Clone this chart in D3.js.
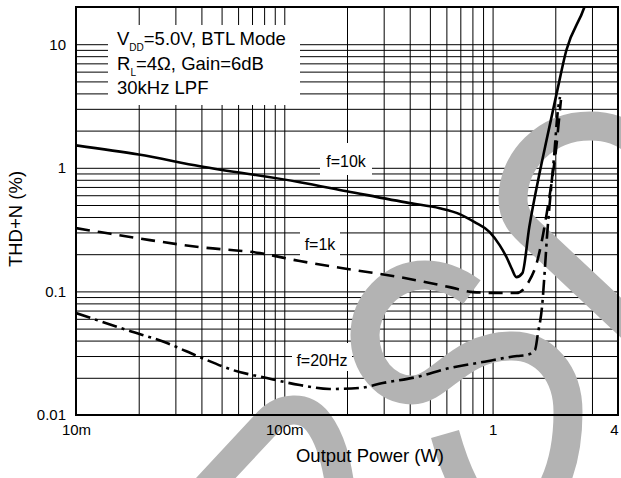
<!DOCTYPE html>
<html>
<head>
<meta charset="utf-8">
<script src="https://cdn.jsdelivr.net/npm/d3@7"></script>
<style>
body { margin: 0; background: #fff; }
svg { display: block; font-family: "Liberation Sans", Arial, sans-serif; }
</style>
</head>
<body>
<svg width="621" height="478"></svg>
<script>
// THD+N vs output power
var powerTicks = [0.01, 0.1, 1, 4],
    powerTickLabels = ["10m", "100m", "1", "4"];
var thdTicks = [0.01, 0.1, 1, 10],
    thdTickLabels = ["0.01", "0.1", "1", "10"];

// [W, %]
var f10k = [[0.01, 1.52], [0.02, 1.28], [0.0394, 1.03], [0.1187, 0.765], [0.1995, 0.647],
    [0.40, 0.518], [0.557, 0.471], [0.695, 0.422], [0.82, 0.363], [0.968, 0.302],
    [1.081, 0.237], [1.167, 0.189], [1.233, 0.154], [1.30, 0.1305], [1.39, 0.1406],
    [1.50, 0.331], [1.68, 0.904], [1.815, 1.67], [2.03, 4.0], [2.26, 8.93], [2.76, 20], [2.9, 26]];

var f1k = [[0.01, 0.325], [0.01303, 0.302], [0.02264, 0.26], [0.0393, 0.228], [0.0763, 0.204],
    [0.1187, 0.176], [0.191, 0.154], [0.358, 0.1305], [0.622, 0.1083], [0.802, 0.0987],
    [1.081, 0.097], [1.30, 0.097], [1.479, 0.117], [1.634, 0.173], [1.727, 0.261],
    [1.824, 0.439], [1.928, 0.797], [2.015, 1.393], [2.083, 2.44], [2.129, 3.54]];

var f20 = [[0.01, 0.0668], [0.01756, 0.0487], [0.02733, 0.0382], [0.0393, 0.0294], [0.0566, 0.0231],
    [0.0824, 0.0199], [0.1187, 0.01748], [0.165, 0.01623], [0.230, 0.01654], [0.297, 0.01814],
    [0.432, 0.0203], [0.622, 0.024], [0.895, 0.0268], [1.31, 0.030], [1.462, 0.0306],
    [1.598, 0.0336], [1.652, 0.0461], [1.727, 0.0748], [1.785, 0.1575], [1.824, 0.275],
    [1.906, 0.661], [1.972, 1.223], [2.06, 2.94], [2.107, 3.74]];

var seriesNames = ["f=10k", "f=1k", "f=20Hz"];

var svg = d3.select("svg"),
    margin = {top: 7, right: 3, bottom: 63, left: 76},
    width = +svg.attr("width") - margin.left - margin.right,
    height = +svg.attr("height") - margin.top - margin.bottom;

var x = d3.scaleLog().domain([0.01, 4]).range([0, width]),
    y = d3.scaleLog().domain([0.01, 20]).range([height, 0]);

// layers, bottom to top
var gridLayer = svg.append("g").attr("transform", "translate(" + margin.left + "," + margin.top + ")"),
    boxLayer = svg.append("g"),
    wmLayer = svg.append("g"),
    focus = svg.append("g").attr("transform", "translate(" + margin.left + "," + margin.top + ")"),
    textLayer = svg.append("g");

// grid
var gx = gridLayer.append("g")
    .attr("transform", "translate(0," + height + ")")
    .call(d3.axisBottom(x).tickValues(x.ticks()).tickSize(-height).tickFormat(""));
var gy = gridLayer.append("g")
    .call(d3.axisLeft(y).tickValues(y.ticks()).tickSize(-width).tickFormat(""));
[gx, gy].forEach(function(g) {
    g.select(".domain").remove();
    g.selectAll("line").attr("stroke", "#000").attr("stroke-width", 1);
});

// white boxes behind the text blocks (page coords)
var boxes = [
    {x: 108, y: 25, w: 192, h: 80},
    {x: 320, y: 143, w: 52, h: 32},
    {x: 300, y: 226, w: 40, h: 34},
    {x: 292, y: 343, w: 60, h: 28}
];
boxLayer.selectAll("rect").data(boxes).enter().append("rect")
    .attr("x", d => d.x).attr("y", d => d.y)
    .attr("width", d => d.w).attr("height", d => d.h)
    .attr("fill", "#fff");

// grey logo watermark
var watermark = [
    "M 640,145 C 622,130 608,126 590,126 C 546,126 513,160 513,199 C 513,215 521,225 535,237 L 650,345",
    "M 472,292 C 457,281 442,275 425,275 C 391,275 365,304 365,335 C 365,366 386,390 412,390 C 440,390 458,347 510,346 C 545,345 568,374 568,412 C 568,470 545,525 505,522 C 480,519 460,488 445,434",
    "M 200,495 L 268,422 C 282,407 305,405 318,422 C 330,438 337,460 341,495"
];
wmLayer.selectAll("path").data(watermark).enter().append("path")
    .attr("d", d => d)
    .attr("fill", "none")
    .attr("stroke", "#b3b3b3")
    .attr("stroke-width", 29);

// frame
focus.append("rect")
    .attr("width", width).attr("height", height)
    .attr("fill", "none").attr("stroke", "#000").attr("stroke-width", 2);

svg.append("defs").append("clipPath").attr("id", "plot")
    .append("rect").attr("width", width).attr("height", height);

var line = d3.line()
    .curve(d3.curveMonotoneX)
    .x(function(d) { return x(d[0]); })
    .y(function(d) { return y(d[1]); });

var styles = [
    {data: f10k, dash: null},
    {data: f1k, dash: "14,8"},
    {data: f20, dash: "15,5,3,5"}
];
focus.append("g").attr("clip-path", "url(#plot)")
    .selectAll("path").data(styles).enter().append("path")
    .attr("d", d => line(d.data))
    .attr("fill", "none")
    .attr("stroke", "#000")
    .attr("stroke-width", 2.6)
    .attr("stroke-dasharray", d => d.dash);

// tick labels
var ax = textLayer.append("g")
    .attr("transform", "translate(" + margin.left + "," + (margin.top + height) + ")")
    .call(d3.axisBottom(x).tickValues(powerTicks).tickSize(0).tickPadding(9)
        .tickFormat(function(d, i) { return powerTickLabels[i]; }));
var ay = textLayer.append("g")
    .attr("transform", "translate(" + margin.left + "," + margin.top + ")")
    .call(d3.axisLeft(y).tickValues(thdTicks).tickSize(0).tickPadding(10)
        .tickFormat(function(d, i) { return thdTickLabels[i]; }));
[ax, ay].forEach(function(g) {
    g.select(".domain").remove();
    g.selectAll("text").attr("font-size", 15).attr("font-family", "Liberation Sans, Arial, sans-serif").attr("fill", "#000");
});
ax.selectAll("text").filter(function(d) { return d === 4; }).attr("dx", -4);

textLayer.append("text")
    .attr("x", 370).attr("y", 462)
    .attr("text-anchor", "middle").attr("font-size", 18.5)
    .text("Output Power (W)");

textLayer.append("text")
    .attr("transform", "translate(22,219) rotate(-90)")
    .attr("text-anchor", "middle").attr("font-size", 18.5)
    .text("THD+N (%)");

// condition block
var cond = textLayer.append("g").attr("font-size", 18.5);
var t1 = cond.append("text").attr("x", 117).attr("y", 45);
t1.append("tspan").text("V");
t1.append("tspan").attr("font-size", 10).attr("dy", 6).text("DD");
t1.append("tspan").attr("dy", -6).text("=5.0V, BTL Mode");
var t2 = cond.append("text").attr("x", 117).attr("y", 70);
t2.append("tspan").text("R");
t2.append("tspan").attr("font-size", 10).attr("dy", 6).text("L");
t2.append("tspan").attr("dy", -6).text("=4\u03A9, Gain=6dB");
cond.append("text").attr("x", 117).attr("y", 94).text("30kHz LPF");

// curve labels
var labelPos = [[346, 167], [320, 250], [322, 366]];
textLayer.selectAll("text.lbl").data(seriesNames).enter().append("text")
    .attr("class", "lbl")
    .attr("x", (d, i) => labelPos[i][0]).attr("y", (d, i) => labelPos[i][1])
    .attr("text-anchor", "middle").attr("font-size", 16)
    .text(d => d);
</script>
</body>
</html>
